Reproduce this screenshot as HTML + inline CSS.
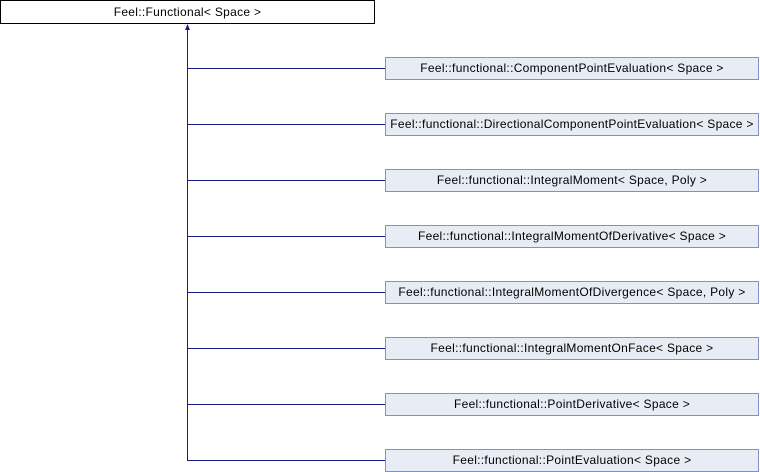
<!DOCTYPE html>
<html><head><style>
body{margin:0;width:760px;height:472px;background:#fff;position:relative;overflow:hidden;font-family:"Liberation Sans",Arial,sans-serif;font-size:12px;letter-spacing:0.3px}
.b{position:absolute;box-sizing:border-box;text-align:center;line-height:21px;color:#000;white-space:nowrap}
.t{left:0;top:0;width:375px;height:24px;border:1px solid #000;line-height:22px}
.c{left:385px;width:374px;height:23px;border:1px solid #8090c8;background:#e8ecf5}
</style></head><body>
<svg width="760" height="472" style="position:absolute;left:0;top:0">
<g stroke="#1a1a8c" stroke-width="1" fill="none">
<line x1="187.5" y1="28" x2="187.5" y2="460.5"/>
<line x1="187" y1="68.5" x2="385" y2="68.5"/>
<line x1="187" y1="124.5" x2="385" y2="124.5"/>
<line x1="187" y1="180.5" x2="385" y2="180.5"/>
<line x1="187" y1="236.5" x2="385" y2="236.5"/>
<line x1="187" y1="292.5" x2="385" y2="292.5"/>
<line x1="187" y1="348.5" x2="385" y2="348.5"/>
<line x1="187" y1="404.5" x2="385" y2="404.5"/>
<line x1="187" y1="460.5" x2="385" y2="460.5"/>
</g>
<polygon points="187.5,24 185,30 190,30" fill="#1a1a8c"/>
</svg>
<div class="b t">Feel::Functional&lt; Space &gt;</div>
<div class="b c" style="top:57px">Feel::functional::ComponentPointEvaluation&lt; Space &gt;</div>
<div class="b c" style="top:113px">Feel::functional::DirectionalComponentPointEvaluation&lt; Space &gt;</div>
<div class="b c" style="top:169px">Feel::functional::IntegralMoment&lt; Space, Poly &gt;</div>
<div class="b c" style="top:225px">Feel::functional::IntegralMomentOfDerivative&lt; Space &gt;</div>
<div class="b c" style="top:281px">Feel::functional::IntegralMomentOfDivergence&lt; Space, Poly &gt;</div>
<div class="b c" style="top:337px">Feel::functional::IntegralMomentOnFace&lt; Space &gt;</div>
<div class="b c" style="top:393px">Feel::functional::PointDerivative&lt; Space &gt;</div>
<div class="b c" style="top:449px">Feel::functional::PointEvaluation&lt; Space &gt;</div>
</body></html>
